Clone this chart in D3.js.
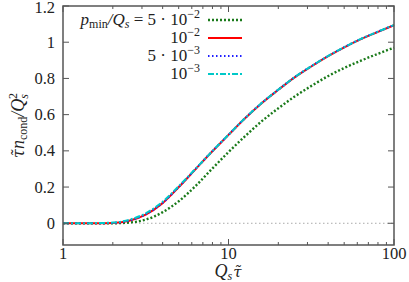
<!DOCTYPE html>
<html>
<head>
<meta charset="utf-8">
<script src="https://cdn.jsdelivr.net/npm/d3@7"></script>
<style>
  body { margin: 0; background: #fff; }
  svg text { font-family: "Liberation Serif", "DejaVu Serif", serif; fill: #222; }
</style>
</head>
<body>
<div id="chart"></div>
<script>
// Q_s tau values where curves were read
var xs = [1, 1.26, 1.58, 2, 2.51, 3.16, 3.98, 5.01, 6.31, 7.94, 10, 12.6, 15.8, 20, 25.1, 31.6, 39.8, 50.1, 63.1, 79.4, 100];

// p_min/Q_s = 5e-2
var green = [0, 0, 0, 0, 0.004, 0.02, 0.06, 0.122, 0.205, 0.3, 0.393, 0.481, 0.562, 0.635, 0.70, 0.758, 0.812, 0.858, 0.898, 0.935, 0.97];
// 1e-2
var red = [0, 0, 0, 0.002, 0.014, 0.048, 0.11, 0.2, 0.298, 0.395, 0.488, 0.58, 0.662, 0.737, 0.806, 0.866, 0.922, 0.972, 1.017, 1.056, 1.094];
// 5e-3
var blue = [0, 0, 0, 0.002, 0.015, 0.049, 0.111, 0.201, 0.299, 0.396, 0.489, 0.581, 0.663, 0.738, 0.807, 0.867, 0.923, 0.973, 1.018, 1.057, 1.095];
// 1e-3
var cyan = [0, 0, 0.001, 0.004, 0.019, 0.055, 0.117, 0.205, 0.3, 0.396, 0.489, 0.581, 0.663, 0.738, 0.807, 0.867, 0.923, 0.973, 1.018, 1.057, 1.095];

var legendExp = ["5 \u00b7 10", "10", "5 \u00b7 10", "10"];
var legendPow = ["\u22122", "\u22122", "\u22123", "\u22123"];
var yTicks = [0, 0.2, 0.4, 0.6, 0.8, 1, 1.2];
var yTickLabels = ["0", "0.2", "0.4", "0.6", "0.8", "1", "1.2"];
var xTicks = [1, 10, 100];

function drawChart() {
    var width = 409, height = 282;
    var mL = 63, mR = 394, mT = 6, mB = 245;

    var x = d3.scaleLog().domain([1, 100]).range([mL, mR]);
    var y = d3.scaleLinear().domain([-0.12, 1.2]).range([mB, mT]);

    var svg = d3.select("#chart").append("svg")
        .attr("width", width)
        .attr("height", height);

    // zero reference line
    svg.append("line")
        .attr("x1", x(1)).attr("x2", x(100))
        .attr("y1", y(0)).attr("y2", y(0))
        .attr("stroke", "#aaa")
        .attr("stroke-width", 1)
        .attr("stroke-dasharray", "1.5,2.5");

    var series = [
        { vals: green, color: "#1a7a1a", width: 2.4, dash: "2,2" },
        { vals: red, color: "#ff0000", width: 2, dash: null },
        { vals: blue, color: "#1f1fff", width: 2, dash: "1.5,2.5" },
        { vals: cyan, color: "#00c8c8", width: 2, dash: "6,2,2,2" }
    ];

    var line = d3.line()
        .x(function (d) { return x(d[0]); })
        .y(function (d) { return y(d[1]); })
        .curve(d3.curveMonotoneX);

    series.forEach(function (s) {
        svg.append("path")
            .datum(xs.map(function (v, i) { return [v, s.vals[i]]; }))
            .attr("d", line)
            .attr("fill", "none")
            .attr("stroke", s.color)
            .attr("stroke-width", s.width)
            .attr("stroke-dasharray", s.dash);
    });

    // ticks drawn inward on all four sides
    var minor = [];
    [1, 10].forEach(function (dec) {
        for (var k = 2; k <= 9; k++) minor.push(dec * k);
    });

    function tick(x1, y1, x2, y2) {
        svg.append("line")
            .attr("x1", x1).attr("y1", y1).attr("x2", x2).attr("y2", y2)
            .attr("stroke", "#555").attr("stroke-width", 1);
    }
    xTicks.forEach(function (t) {
        tick(x(t), mB, x(t), mB - 6);
        tick(x(t), mT, x(t), mT + 6);
    });
    minor.forEach(function (t) {
        tick(x(t), mB, x(t), mB - 3);
        tick(x(t), mT, x(t), mT + 3);
    });
    yTicks.forEach(function (t) {
        tick(mL, y(t), mL + 6, y(t));
        tick(mR, y(t), mR - 6, y(t));
    });

    // frame
    svg.append("rect")
        .attr("x", mL).attr("y", mT)
        .attr("width", mR - mL).attr("height", mB - mT)
        .attr("fill", "none")
        .attr("stroke", "#555")
        .attr("stroke-width", 1.5);

    // tick labels (top one kept inside the window)
    svg.selectAll(".ylab").data(yTicks).enter().append("text")
        .attr("x", mL - 8)
        .attr("y", function (d) { return Math.max(y(d) + 5.5, 13); })
        .attr("text-anchor", "end")
        .attr("font-size", 16.5)
        .text(function (d, i) { return yTickLabels[i]; });

    svg.selectAll(".xlab").data(xTicks).enter().append("text")
        .attr("x", function (d) { return x(d); })
        .attr("y", 259)
        .attr("text-anchor", "middle")
        .attr("font-size", 16.5)
        .text(function (d) { return d; });

    // axis titles
    var xt = svg.append("text")
        .attr("x", 228).attr("y", 277)
        .attr("text-anchor", "middle")
        .attr("font-size", 18)
        .attr("font-style", "italic");
    xt.append("tspan").text("Q");
    xt.append("tspan").attr("font-size", 12).attr("dy", 3).text("s");
    xt.append("tspan").attr("dy", -3).attr("dx", 1)
        .style("font-family", "DejaVu Serif").attr("font-size", 15).text("\u03c4\u0303");

    var yt = svg.append("text")
        .attr("transform", "translate(24," + ((mT + mB) / 2) + ") rotate(-90)")
        .attr("text-anchor", "middle")
        .attr("font-size", 18)
        .attr("font-style", "italic");
    yt.append("tspan").style("font-family", "DejaVu Serif").attr("font-size", 16).text("\u03c4\u0303");
    yt.append("tspan").text("n");
    yt.append("tspan").attr("font-size", 12).attr("dy", 3).attr("font-style", "normal").text("cond");
    yt.append("tspan").attr("dy", -3).text("/Q");
    yt.append("tspan").attr("font-size", 12).attr("dy", 4).text("s");
    yt.append("tspan").attr("font-size", 12).attr("dx", -5).attr("dy", -11).attr("font-style", "normal").text("2");

    // legend
    var legY = [20, 38, 56, 74];
    series.forEach(function (s, i) {
        var t = svg.append("text")
            .attr("x", 200).attr("y", legY[i] + 5)
            .attr("text-anchor", "end")
            .attr("font-size", 17);
        if (i === 0) {
            t.append("tspan").attr("font-style", "italic").text("p");
            t.append("tspan").attr("font-size", 12).attr("dy", 3).text("min");
            t.append("tspan").attr("dy", -3).attr("font-style", "italic").text("/Q");
            t.append("tspan").attr("font-size", 12).attr("dy", 3).attr("font-style", "italic").text("s");
            t.append("tspan").attr("dy", -3).text(" = ");
        }
        t.append("tspan").text(legendExp[i]);
        t.append("tspan").attr("font-size", 12).attr("dy", -7).text(legendPow[i]);

        svg.append("line")
            .attr("x1", 208).attr("x2", 242)
            .attr("y1", legY[i]).attr("y2", legY[i])
            .attr("stroke", s.color)
            .attr("stroke-width", s.width)
            .attr("stroke-dasharray", s.dash);
    });
}

drawChart();
</script>
</body>
</html>
